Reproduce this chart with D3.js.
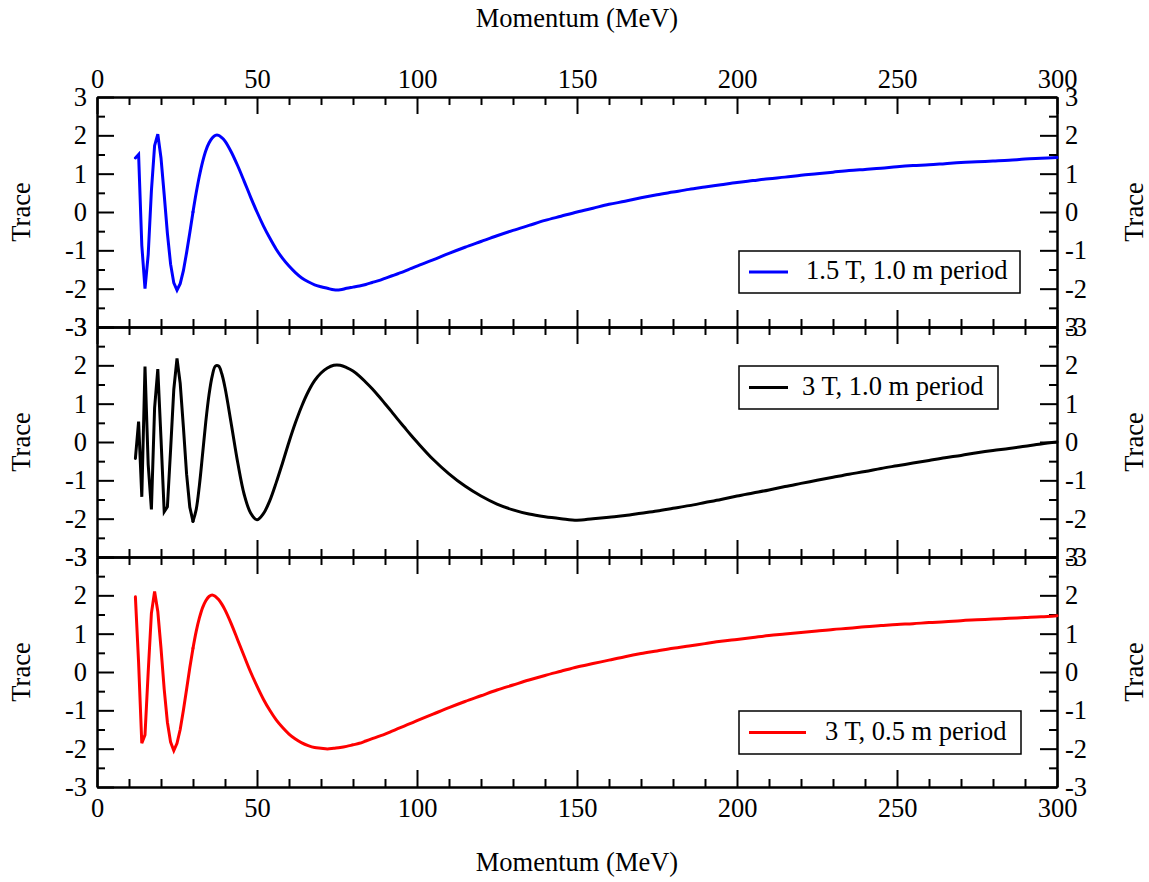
<!DOCTYPE html>
<html><head><meta charset="utf-8">
<script src="https://cdn.jsdelivr.net/npm/d3@7"></script>
<style>
body{margin:0;background:#fff}
</style></head>
<body>
<svg id="chart" width="1149" height="882"></svg>
<script>
// ---------------- data ----------------
const momentum = [12,13,14,15,16,17,18,19,20,21,22,23,24,25,26,27,28,29,30,31,32,33,34,35,36,37,38,39,40,
  42,44,46,48,50,52,54,56,58,60,62,64,66,68,70,72,74,76,78,80,82,84,86,88,90,92,94,96,98,100,
  105,110,115,120,125,130,135,140,145,150,155,160,165,170,175,180,185,190,195,200,
  205,210,215,220,225,230,235,240,245,250,255,260,265,270,275,280,285,290,295,300];

const trace15T1m = [1.41,1.50,-0.87,-2.00,-1.11,0.55,1.73,2.03,1.41,0.45,-0.56,-1.36,-1.85,-2.04,-1.87,-1.53,-1.06,-0.54,0.00,0.50,0.94,1.31,1.60,1.80,1.93,2.00,2.00,1.94,1.85,
  1.56,1.20,0.80,0.39,0.00,-0.36,-0.68,-0.97,-1.21,-1.41,-1.58,-1.72,-1.82,-1.90,-1.95,-1.99,-2.03,-2.03,-1.99,-1.96,-1.93,-1.89,-1.84,-1.79,-1.73,-1.67,-1.61,-1.55,-1.48,-1.41,
  -1.25,-1.08,-0.92,-0.77,-0.62,-0.48,-0.35,-0.22,-0.11,0.00,0.10,0.20,0.28,0.37,0.45,0.52,0.59,0.65,0.71,0.77,
  0.82,0.87,0.91,0.96,1.00,1.04,1.08,1.11,1.14,1.18,1.21,1.23,1.26,1.29,1.31,1.33,1.35,1.38,1.40,1.42];

const trace3T1m = [-0.43,0.53,-1.43,1.97,-0.59,-1.76,0.89,1.90,0.09,-1.82,-1.69,-0.20,1.37,2.18,1.53,0.39,-0.84,-1.70,-2.07,-1.76,-1.13,-0.31,0.53,1.23,1.72,1.98,1.98,1.78,1.42,
  0.45,-0.55,-1.37,-1.85,-2.03,-1.87,-1.53,-1.06,-0.54,0.00,0.50,0.94,1.31,1.60,1.80,1.93,2.00,2.00,1.94,1.85,1.72,1.56,1.39,1.20,1.00,0.80,0.59,0.39,0.19,0.00,
  -0.45,-0.83,-1.15,-1.41,-1.62,-1.77,-1.88,-1.95,-2.00,-2.04,-2.00,-1.96,-1.92,-1.86,-1.80,-1.73,-1.66,-1.58,-1.50,-1.41,
  -1.33,-1.25,-1.16,-1.08,-1.00,-0.92,-0.84,-0.77,-0.69,-0.62,-0.55,-0.48,-0.41,-0.35,-0.28,-0.22,-0.17,-0.11,-0.05,0.00];

const trace3T05m = [1.96,0.24,-1.86,-1.64,0.00,1.53,2.10,1.58,0.62,-0.45,-1.31,-1.83,-2.05,-1.86,-1.50,-1.00,-0.45,0.11,0.62,1.06,1.41,1.68,1.86,1.97,2.01,1.97,1.89,1.77,1.62,
  1.25,0.83,0.41,0.00,-0.37,-0.71,-1.00,-1.25,-1.45,-1.62,-1.75,-1.85,-1.92,-1.97,-1.99,-2.01,-1.99,-1.97,-1.94,-1.90,-1.86,-1.80,-1.74,-1.68,-1.62,-1.55,-1.48,-1.41,-1.34,-1.27,
  -1.10,-0.93,-0.77,-0.62,-0.47,-0.34,-0.21,-0.09,0.02,0.13,0.22,0.31,0.40,0.48,0.55,0.62,0.68,0.74,0.80,0.85,
  0.90,0.95,0.99,1.03,1.07,1.11,1.14,1.18,1.21,1.24,1.26,1.29,1.31,1.34,1.36,1.38,1.40,1.42,1.44,1.47];

const seriesLabels = ["1.5 T, 1.0 m period", "3 T, 1.0 m period", "3 T, 0.5 m period"];
const seriesColors = ["#0000ff", "#000000", "#ff0000"];
const seriesValues = [trace15T1m, trace3T1m, trace3T05m];

const xMajorTicks = [0,50,100,150,200,250,300];
const xMinorTicks = [10,20,30,40,60,70,80,90,110,120,130,140,160,170,180,190,210,220,230,240,260,270,280,290];
const yMajorTicks = [-3,-2,-1,0,1,2,3];
const yMinorTicks = [-2.5,-1.5,-0.5,0.5,1.5,2.5];
const xTitle = "Momentum (MeV)";
const yTitle = "Trace";

// ---------------- layout ----------------
const W = 1149, Hpx = 882;
const left = 97, right = 1057;
const panelTops = [97, 327, 557];
const panelH = 230;
const FONT = "Liberation Serif";
const fontSize = 26.5;
const majorLen = 17, minorLen = 8;
const smoothFrom = 30; // sample spacing widens beyond this momentum
// legend boxes [x, y, w, h, sampleLen, textX]
const legendBoxes = [
  [739, 251, 281, 42, 39, 806],
  [739, 366, 259, 43, 39, 802],
  [739, 711, 282, 43, 57, 825]
];

const svg = d3.select("#chart");
svg.append("rect").attr("width", W).attr("height", Hpx).attr("fill", "#fff");

const x = d3.scaleLinear().domain([0, 300]).range([left, right]);

function styleText(sel) {
  return sel.attr("font-family", FONT).attr("font-size", fontSize).attr("fill", "#000");
}
function styleAxis(g) {
  g.attr("font-family", FONT).attr("font-size", fontSize);
  g.select(".domain").attr("stroke", "#000").attr("stroke-width", 2);
  g.selectAll(".tick line").attr("stroke", "#000").attr("stroke-width", 2);
  g.selectAll(".tick text").call(styleText);
}

panelTops.forEach((top, i) => {
  const bottom = top + panelH;
  const y = d3.scaleLinear().domain([-3, 3]).range([bottom, top]);
  const g = svg.append("g");
  const fmt = d => String(d);

  // minor ticks
  g.append("g").attr("transform", `translate(0,${bottom})`)
    .call(d3.axisBottom(x).tickValues(xMinorTicks).tickSize(-minorLen).tickSizeOuter(0).tickFormat(""))
    .call(styleAxis);
  g.append("g").attr("transform", `translate(0,${top})`)
    .call(d3.axisTop(x).tickValues(xMinorTicks).tickSize(-minorLen).tickSizeOuter(0).tickFormat(""))
    .call(styleAxis);
  g.append("g").attr("transform", `translate(${left},0)`)
    .call(d3.axisLeft(y).tickValues(yMinorTicks).tickSize(-minorLen).tickSizeOuter(0).tickFormat(""))
    .call(styleAxis);
  g.append("g").attr("transform", `translate(${right},0)`)
    .call(d3.axisRight(y).tickValues(yMinorTicks).tickSize(-minorLen).tickSizeOuter(0).tickFormat(""))
    .call(styleAxis);

  // major ticks
  g.append("g").attr("transform", `translate(0,${bottom})`)
    .call(d3.axisBottom(x).tickValues(xMajorTicks).tickSize(-majorLen).tickSizeOuter(0)
      .tickPadding(11).tickFormat(i === 2 ? fmt : ""))
    .call(styleAxis);
  g.append("g").attr("transform", `translate(0,${top})`)
    .call(d3.axisTop(x).tickValues(xMajorTicks).tickSize(-majorLen).tickSizeOuter(0)
      .tickPadding(9).tickFormat(i === 0 ? fmt : ""))
    .call(styleAxis);
  g.append("g").attr("transform", `translate(${left},0)`)
    .call(d3.axisLeft(y).tickValues(yMajorTicks).tickSize(-majorLen).tickSizeOuter(0)
      .tickPadding(10).tickFormat(fmt))
    .call(styleAxis);
  g.append("g").attr("transform", `translate(${right},0)`)
    .call(d3.axisRight(y).tickValues(yMajorTicks).tickSize(-majorLen).tickSizeOuter(0)
      .tickPadding(8).tickFormat(fmt))
    .call(styleAxis);

  // curve: straight segments in the densely sampled low-momentum part,
  // smooth interpolation in the sparsely sampled part
  const vals = seriesValues[i];
  const pts = momentum.map((p, k) => [p, vals[k]]);
  const lowPts = pts.filter(d => d[0] <= smoothFrom);
  const highPts = pts.filter(d => d[0] >= smoothFrom);
  const lineLow = d3.line().x(d => x(d[0])).y(d => y(d[1]));
  const lineHigh = d3.line().curve(d3.curveCatmullRom.alpha(0.5)).x(d => x(d[0])).y(d => y(d[1]));
  [[lowPts, lineLow], [highPts, lineHigh]].forEach(([data, gen]) => {
    g.append("path").datum(data)
      .attr("fill", "none")
      .attr("stroke", seriesColors[i])
      .attr("stroke-width", 3)
      .attr("stroke-linejoin", "miter")
      .attr("stroke-linecap", "round")
      .attr("d", gen);
  });

  // axis titles "Trace"
  const mid = (top + bottom) / 2;
  g.append("text").attr("transform", `translate(30,${mid}) rotate(-90)`)
    .attr("text-anchor", "middle").call(styleText).text(yTitle);
  g.append("text").attr("transform", `translate(1143,${mid}) rotate(-90)`)
    .attr("text-anchor", "middle").call(styleText).text(yTitle);

  // legend
  const [lx, ly, lw, lh, sl, tx] = legendBoxes[i];
  const lg = g.append("g");
  lg.append("rect").attr("x", lx).attr("y", ly).attr("width", lw).attr("height", lh)
    .attr("fill", "#fff").attr("stroke", "#000").attr("stroke-width", 1.5);
  const cy = ly + lh / 2;
  lg.append("line").attr("x1", lx + 10).attr("x2", lx + 10 + sl).attr("y1", cy).attr("y2", cy)
    .attr("stroke", seriesColors[i]).attr("stroke-width", 3);
  lg.append("text").attr("x", tx).attr("y", cy + 7).call(styleText)
    .text(seriesLabels[i]);
});

svg.append("text").attr("x", (left + right) / 2).attr("y", 27).attr("text-anchor", "middle")
  .call(styleText).text(xTitle);
svg.append("text").attr("x", (left + right) / 2).attr("y", 871).attr("text-anchor", "middle")
  .call(styleText).text(xTitle);
</script>
</body></html>
